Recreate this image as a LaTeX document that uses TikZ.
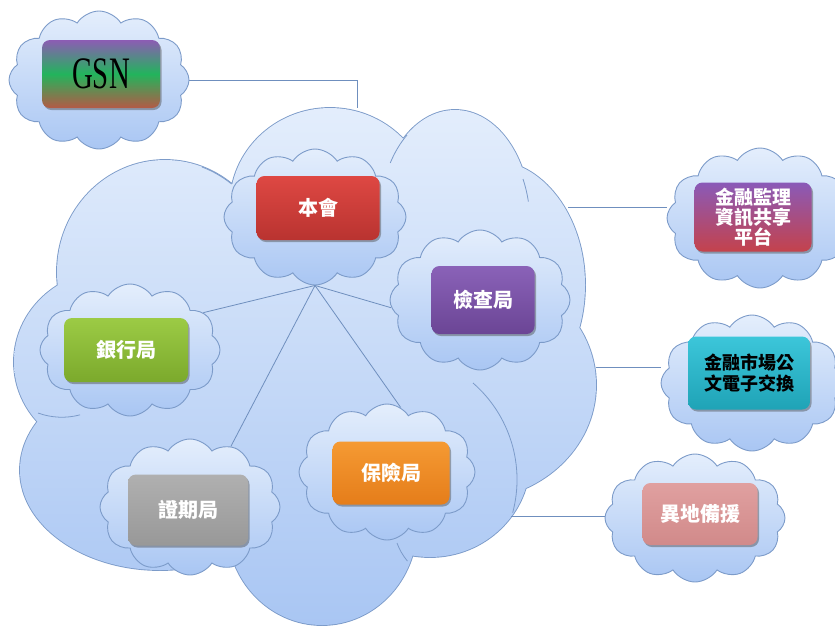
\documentclass[tikz,border=0pt]{standalone}
\usepackage{fontspec}
\newfontfamily\cjk{Noto Sans CJK TC}
\newfontfamily\gsnfont{Liberation Serif}
\usetikzlibrary{shapes.symbols,shadows}
\definecolor{cloudline}{HTML}{7C9BC9}
\definecolor{cloudtop}{HTML}{E4EEFC}
\definecolor{cloudbot}{HTML}{A9C6F3}
\definecolor{linkcol}{HTML}{6F8FBE}
\definecolor{gsnA}{HTML}{8C5CB4}
\definecolor{gsnB}{HTML}{22B45C}
\definecolor{gsnC}{HTML}{B45A46}
\definecolor{redA}{HTML}{DE4843}
\definecolor{redB}{HTML}{B93330}
\definecolor{purA}{HTML}{8A62B8}
\definecolor{purB}{HTML}{6B4595}
\definecolor{grnA}{HTML}{9CCB45}
\definecolor{grnB}{HTML}{7BA92C}
\definecolor{gryA}{HTML}{B0B0B0}
\definecolor{gryB}{HTML}{989898}
\definecolor{orgA}{HTML}{F59A33}
\definecolor{orgB}{HTML}{E57D1A}
\definecolor{jrA}{HTML}{8A5AB8}
\definecolor{jrB}{HTML}{C4424C}
\definecolor{cyA}{HTML}{3CC6DA}
\definecolor{cyB}{HTML}{1FA3B6}
\definecolor{pkA}{HTML}{E0A0A0}
\definecolor{pkB}{HTML}{D18A8A}
\pgfdeclarelayer{bg}
\pgfsetlayers{bg,main}
\tikzset{
  smallcloud/.style={cloud, cloud puffs=12, cloud puff arc=115, cloud ignores aspect,
    draw=cloudline, line width=0.9pt, top color=cloudtop, bottom color=cloudbot, inner sep=0pt},
  box/.style={rounded corners=8pt, inner sep=0pt, align=center, text=white,
    font=\cjk\bfseries\fontsize{20}{22}\selectfont,
    drop shadow={shadow xshift=1.5pt, shadow yshift=-2pt, opacity=0.45, fill=black!70}},
  link/.style={draw=linkcol, line width=0.8pt},
  inner/.style={draw=cloudline, line width=0.8pt},
}
\begin{document}
\begin{tikzpicture}[x=1pt,y=-1pt]
\useasboundingbox (0,0) rectangle (835,625);
% small clouds
\node[smallcloud, minimum width=180pt, minimum height=138pt] (gsncloud) at (99,80) {};
\node[smallcloud, minimum width=182pt, minimum height=136pt] (bhcloud) at (315,217) {};
\node[smallcloud, minimum width=180pt, minimum height=140pt] (jccloud) at (480,300) {};
\node[smallcloud, minimum width=180pt, minimum height=132pt] (yhcloud) at (130,350) {};
\node[smallcloud, minimum width=180pt, minimum height=136pt] (zqcloud) at (190,507) {};
\node[smallcloud, minimum width=176pt, minimum height=136pt] (bxcloud) at (387,472) {};
\node[smallcloud, minimum width=186pt, minimum height=140pt] (jrcloud) at (760,218) {};
\node[smallcloud, minimum width=182pt, minimum height=136pt] (gwcloud) at (752,383) {};
\node[smallcloud, minimum width=180pt, minimum height=128pt] (ydcloud) at (695,518) {};
% boxes
\node[box, minimum width=118pt, minimum height=68pt, top color=gsnA, bottom color=gsnC, middle color=gsnB, text=black,
  font=\gsnfont] (gsn) at (101,74) {\scalebox{0.64}[1]{\fontsize{45}{45}\selectfont GSN}};
\node[box, minimum width=123pt, minimum height=64pt, top color=redA, bottom color=redB] (bh) at (318,208) {本會};
\node[box, minimum width=103pt, minimum height=68pt, top color=purA, bottom color=purB] (jc) at (483,300) {檢查局};
\node[box, minimum width=124pt, minimum height=64pt, top color=grnA, bottom color=grnB] (yh) at (126,350) {銀行局};
\node[box, minimum width=120pt, minimum height=71pt, top color=gryA, bottom color=gryB] (zq) at (188,510) {證期局};
\node[box, minimum width=117pt, minimum height=63pt, top color=orgA, bottom color=orgB] (bx) at (391,473) {保險局};
\node[box, minimum width=117pt, minimum height=69pt, top color=jrA, bottom color=jrB,
  font=\cjk\bfseries\fontsize{19}{20}\selectfont] (jr) at (753,217) {金融監理\\資訊共享\\平台};
\node[box, minimum width=122pt, minimum height=73pt, top color=cyA, bottom color=cyB, text=black,
  font=\cjk\bfseries\fontsize{18}{21}\selectfont] (gw) at (749,373) {金融市場公\\文電子交換};
\node[box, minimum width=115pt, minimum height=62pt, top color=pkA, bottom color=pkB] (yd) at (700,514) {異地備援};
% connection points on the big cloud
\coordinate (gsnJ) at (357,108);
\coordinate (eJR) at (568,207);
\coordinate (eGW) at (596,367);
\coordinate (eYD) at (511,516);
\begin{pgfonlayer}{bg}
\def\bigcloud{
  (165,272) ellipse [x radius=108pt, y radius=112pt]
  (330,205) ellipse [x radius=100pt, y radius=97pt]
  (455,215) ellipse [x radius=75pt, y radius=105pt]
  (490,285) ellipse [x radius=95pt, y radius=125pt]
  (470,385) ellipse [x radius=126pt, y radius=115pt]
  (430,460) ellipse [x radius=100pt, y radius=97pt]
  (322,525) ellipse [x radius=95pt, y radius=100pt]
  (160,470) ellipse [x radius=140pt, y radius=100pt]
  (112,362) ellipse [x radius=98pt, y radius=92pt]
  (300,380) ellipse [x radius=190pt, y radius=180pt]
}
\draw[draw=cloudline, line width=1.8pt] \bigcloud;
\begin{scope}
\clip \bigcloud;
\shade[top color=cloudtop, bottom color=cloudbot] (0,100) rectangle (610,625);
\end{scope}
% interior lobe arcs
\draw[inner] (202,167) arc[start angle=70, end angle=52, x radius=108pt, y radius=112pt];
\draw[inner] (407,135) arc[start angle=130, end angle=150, x radius=75pt, y radius=105pt];
\draw[inner] (523,179) arc[start angle=25, end angle=12, x radius=75pt, y radius=105pt];
\draw[inner] (473,383) arc[start angle=49, end angle=-15, radius=128pt];
\draw[inner] (38,413) arc[start angle=250, end angle=285, radius=70pt];
\draw[inner] (397,543) arc[start angle=200, end angle=220, radius=60pt];
% links
\draw[link] (gsncloud.east) -| (gsnJ);
\draw[link] (eJR) -- (eJR -| jrcloud.west);
\draw[link] (eGW) -- (eGW -| gwcloud.west);
\draw[link] (eYD) -- (eYD -| ydcloud.west);
\draw[link] (bhcloud.south) -- (yhcloud.27);
\draw[link] (bhcloud.south) -- (zqcloud.56);
\draw[link] (bhcloud.south) -- (bxcloud.78);
\draw[link] (bhcloud.south) -- (jccloud.185);
\end{pgfonlayer}
\end{tikzpicture}
\end{document}
